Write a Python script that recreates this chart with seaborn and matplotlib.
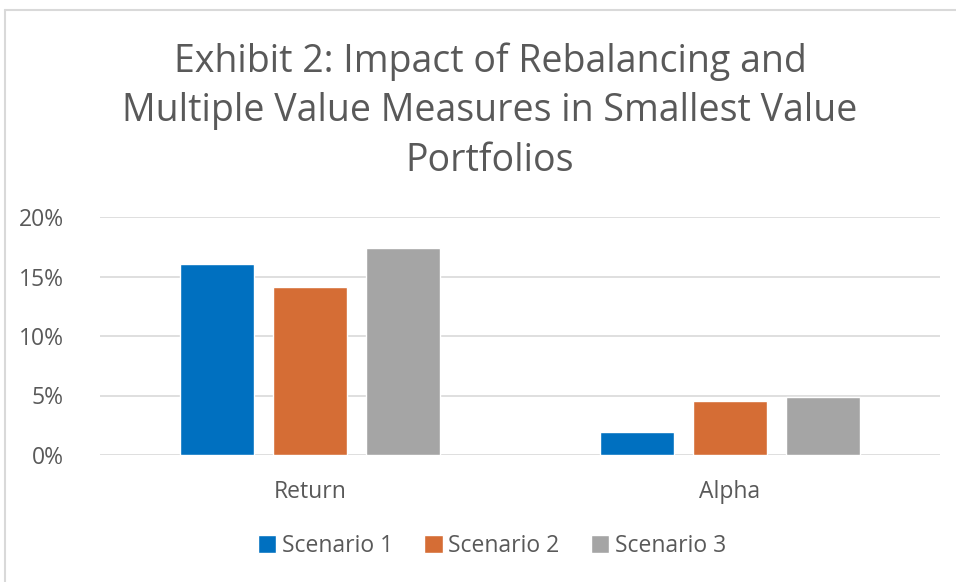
import matplotlib
matplotlib.use("Agg")
import matplotlib.pyplot as plt
import seaborn as sns
import pandas as pd
from matplotlib.lines import Line2D

categories = ["Return", "Alpha"]
scenarios = ["Scenario 1", "Scenario 2", "Scenario 3"]
scenario1 = [0.1605, 0.0196]
scenario2 = [0.1414, 0.0451]
scenario3 = [0.1740, 0.0485]
colors = ["#0070C0", "#D56D35", "#A5A5A5"]
title = "Exhibit 2: Impact of Rebalancing and\nMultiple Value Measures in Smallest Value\nPortfolios"

rows = []
for s, vals in zip(scenarios, [scenario1, scenario2, scenario3]):
    for c, v in zip(categories, vals):
        rows.append({"Category": c, "Scenario": s, "Value": v})
df = pd.DataFrame(rows)

sns.set_theme(style="white")
plt.rcParams['font.family'] = ['Open Sans', 'DejaVu Sans']

W, H = 956, 582
fig = plt.figure(figsize=(W / 100, H / 100), dpi=100)
ax = fig.add_axes([100 / W, 1 - 455 / H, 840 / W, (455 - 217) / H])

sns.barplot(data=df, x="Category", y="Value", hue="Scenario", order=categories,
            hue_order=scenarios, palette=colors, width=0.664, gap=0.2,
            saturation=1, ax=ax, legend=True, errorbar=None)

ax.set_xlim(-0.5, 1.5)
ax.set_ylim(0, 0.2)
ax.set_yticks([0, 0.05, 0.10, 0.15, 0.20])
ax.set_yticklabels(["0%", "5%", "10%", "15%", "20%"])
ax.yaxis.grid(True, color="#D9D9D9", linewidth=1.2)
ax.set_axisbelow(True)
for sp in ax.spines.values():
    sp.set_visible(False)
ax.tick_params(axis="both", length=0, labelsize=16.5, colors="#595959")
ax.tick_params(axis="y", pad=26)
ax.tick_params(axis="x", pad=18)
ax.set_xlabel("")
ax.set_ylabel("")

leg = ax.legend(loc="center", bbox_to_anchor=(492 / W, 1 - 546 / H),
                bbox_transform=fig.transFigure, ncol=3, frameon=False,
                fontsize=16.5, handlelength=0.8, handleheight=0.8,
                handletextpad=0.25, columnspacing=1.35, labelcolor="#595959")

fig.text(490 / W, 1 - 111 / H, title, ha="center", va="center",
         fontsize=27, color="#595959", linespacing=1.4)

fig.add_artist(Line2D([5 / W, 1], [1 - 10 / H, 1 - 10 / H], transform=fig.transFigure,
                      color="#D9D9D9", linewidth=1.5))
fig.add_artist(Line2D([5 / W, 5 / W], [0, 1 - 10 / H], transform=fig.transFigure,
                      color="#D9D9D9", linewidth=1.5))

fig.savefig("out.png", dpi=100, facecolor="white")
